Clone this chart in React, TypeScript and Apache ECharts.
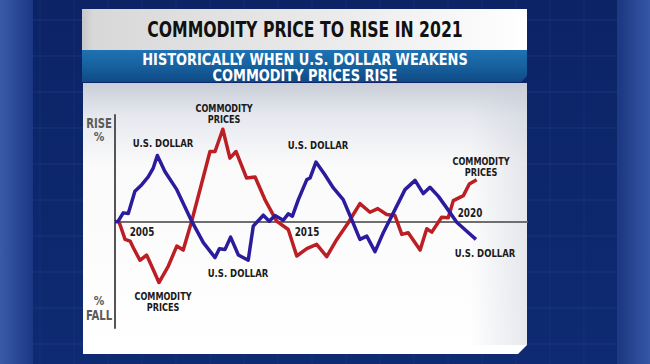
import React, { useEffect, useRef } from "react";
import * as echarts from "echarts";

// ---- Data (x = time in years, y = relative % change, -100..100 scale) ----
const dollarX = [2004.0, 2004.12, 2004.36, 2004.58, 2004.87, 2005.17, 2005.45, 2005.67, 2005.85, 2006.18, 2006.7, 2007.35, 2007.86, 2008.37, 2008.56, 2008.81, 2009.05, 2009.39, 2009.82, 2010.04, 2010.48, 2010.74, 2010.99, 2011.35, 2011.57, 2011.75, 2012.01, 2012.38, 2012.52, 2012.78, 2013.17, 2013.54, 2013.97, 2014.34, 2014.7, 2015.0, 2015.36, 2015.72, 2016.16, 2016.67, 2017.11, 2017.47, 2017.76, 2018.13, 2018.49, 2018.93, 2019.37, 2019.77];
const dollarY = [0, -0.3, 8.1, 7.5, 28.3, 34.6, 41.8, 50.2, 62.0, 47.0, 29.9, 0.3, -19.9, -33.9, -25.5, -26.2, -14.7, -31.5, -36.4, -4.4, 5.9, 0.3, 5.6, 1.2, 7.2, 5.0, 20.6, 39.3, 40.8, 55.8, 43.9, 31.5, 20.6, 1.9, -16.8, -13.7, -28.3, -10.6, 8.1, 29.9, 38.6, 26.2, 32.1, 23.6, 12.8, -0.7, -9.1, -16.8];

const commodityX = [2004.15, 2004.19, 2004.44, 2004.66, 2004.8, 2005.09, 2005.38, 2005.6, 2005.92, 2006.33, 2006.7, 2006.98, 2007.35, 2007.79, 2008.15, 2008.37, 2008.71, 2009.02, 2009.29, 2009.75, 2010.12, 2010.55, 2011.06, 2011.57, 2011.94, 2012.38, 2012.81, 2013.25, 2013.69, 2014.19, 2014.7, 2015.14, 2015.48, 2015.87, 2016.23, 2016.53, 2016.81, 2017.33, 2017.62, 2017.84, 2018.27, 2018.56, 2018.78, 2019.22, 2019.48, 2019.8];
const commodityY = [0, -1.2, -16.8, -18.4, -24.6, -36.4, -31.5, -41.8, -57.3, -41.8, -23.1, -26.8, 0.3, 36.2, 65.7, 65.7, 86.6, 59.5, 65.7, 40.8, 41.8, 20.6, 0.3, -7.5, -32.4, -25.5, -21.5, -33.0, -16.8, -1.2, 16.8, 8.7, 12.1, 6.5, 5.6, -12.1, -10.6, -26.8, -6.8, -10.0, 4.0, 3.5, 19.6, 24.3, 35.2, 39.3];

const TITLE = "COMMODITY PRICE TO RISE IN 2021";
const SUBTITLE_1 = "HISTORICALLY WHEN U.S. DOLLAR WEAKENS";
const SUBTITLE_2 = "COMMODITY PRICES RISE";
const YEAR_LABELS = ["2005", "2015", "2020"];
const DOLLAR_LABEL = "U.S. DOLLAR";
const COMMODITY_LABEL = ["COMMODITY", "PRICES"];

const FONT = "'Liberation Sans Narrow', 'DejaVu Sans Condensed', 'Roboto', sans-serif";

export default function App() {
  const ref = useRef<HTMLDivElement>(null);

  useEffect(() => {
    if (!ref.current) return;
    const chart = echarts.init(ref.current, null, { renderer: "svg" });

    const zip = (xs: number[], ys: number[]) => xs.map((x, i) => [x, ys[i]]);

    const label = (text: string, x: number, y: number, size = 11, color = "#1a1a1a", sx = 0.86) => ({
      type: "text",
      x,
      y,
      z: 100,
      scaleX: sx,
      style: {
        text,
        fill: color,
        font: `bold ${size}px ${FONT}`,
        textAlign: "center",
        textVerticalAlign: "middle",
      },
    });

    const twoLine = (x: number, y1: number) => [
      label(COMMODITY_LABEL[0], x, y1, 10.5),
      label(COMMODITY_LABEL[1], x, y1 + 11, 10.5),
    ];

    const bgLines: any[] = [];
    for (let i = 0; i < 10; i++) {
      bgLines.push({
        type: "line",
        z: -9,
        shape: { x1: 33, y1: 20 + i * 36, x2: 617, y2: 20 + i * 36 },
        style: { stroke: "rgba(90,130,220,0.16)", lineWidth: 1 },
      });
    }
    for (let i = 0; i < 18; i++) {
      bgLines.push({
        type: "line",
        z: -9,
        shape: { x1: 40 + i * 34, y1: 0, x2: 40 + i * 34, y2: 364 },
        style: { stroke: "rgba(90,130,220,0.10)", lineWidth: 1 },
      });
    }

    const option: any = {
      animation: false,
      backgroundColor: {
        type: "linear",
        x: 0, y: 0, x2: 0, y2: 1,
        colorStops: [
          { offset: 0, color: "#0c2466" },
          { offset: 1, color: "#0e2a72" },
        ],
      },
      grid: { left: 115, right: 123, top: 115, bottom: 36, containLabel: false },
      xAxis: {
        type: "value",
        min: 2004,
        max: 2022,
        axisLine: { show: true, onZero: true, lineStyle: { color: "#6e6e6e", width: 2 } },
        axisTick: { show: false },
        axisLabel: { show: false },
        splitLine: { show: false },
      },
      yAxis: {
        type: "value",
        min: -100,
        max: 100,
        axisLine: { show: true, lineStyle: { color: "#555555", width: 2 } },
        axisTick: { show: false },
        axisLabel: { show: false },
        splitLine: { show: false },
      },
      series: [
        {
          name: "U.S. DOLLAR",
          type: "line",
          data: zip(dollarX, dollarY),
          showSymbol: false,
          symbol: "none",
          lineStyle: { color: "#2b1c9e", width: 3.5, join: "round" },
          z: 5,
        },
        {
          name: "COMMODITY PRICES",
          type: "line",
          data: zip(commodityX, commodityY),
          showSymbol: false,
          symbol: "none",
          lineStyle: { color: "#bb1f24", width: 3.5, join: "round" },
          z: 4,
        },
      ],
      graphic: {
        elements: [
          // side bars
          {
            type: "rect", z: -10,
            shape: { x: 0, y: 0, width: 33, height: 364 },
            style: {
              fill: {
                type: "linear", x: 0, y: 0, x2: 1, y2: 0,
                colorStops: [
                  { offset: 0, color: "#3a5aa8" },
                  { offset: 1, color: "#1a3783" },
                ],
              },
            },
          },
          {
            type: "rect", z: -10,
            shape: { x: 617, y: 0, width: 33, height: 364 },
            style: {
              fill: {
                type: "linear", x: 0, y: 0, x2: 1, y2: 0,
                colorStops: [
                  { offset: 0, color: "#1b3680" },
                  { offset: 1, color: "#3657a6" },
                ],
              },
            },
          },
          ...bgLines,
          // title box
          {
            type: "rect", z: -5,
            shape: { x: 82, y: 9, width: 445, height: 41 },
            style: {
              fill: {
                type: "linear", x: 0, y: 0, x2: 1, y2: 0,
                colorStops: [
                  { offset: 0, color: "#c4c6ca" },
                  { offset: 0.025, color: "#d8d8d8" },
                  { offset: 0.6, color: "#ececec" },
                  { offset: 1, color: "#ffffff" },
                ],
              },
            },
          },
          // blue subtitle bar
          {
            type: "polygon", z: -5,
            shape: { points: [[82, 50], [527, 50], [527, 76], [521, 82], [82, 82]] },
            style: {
              fill: {
                type: "linear", x: 0, y: 0, x2: 0, y2: 1,
                colorStops: [
                  { offset: 0, color: "#1f72b3" },
                  { offset: 0.5, color: "#17619f" },
                  { offset: 1, color: "#0f4a84" },
                ],
              },
            },
          },
          // chart panel
          {
            type: "polygon", z: -5,
            shape: { points: [[83, 83], [527, 83], [527, 345], [518, 354], [83, 354]] },
            style: {
              fill: {
                type: "linear", x: 0, y: 0, x2: 0, y2: 1,
                colorStops: [
                  { offset: 0, color: "#c9ced8" },
                  { offset: 0.12, color: "#e6e8ee" },
                  { offset: 0.3, color: "#fafafb" },
                  { offset: 1, color: "#ffffff" },
                ],
              },
            },
          },
          {
            type: "rect", z: -4,
            shape: { x: 470, y: 83, width: 57, height: 262 },
            style: {
              fill: {
                type: "linear", x: 0, y: 0, x2: 1, y2: 0,
                colorStops: [
                  { offset: 0, color: "rgba(200,205,215,0)" },
                  { offset: 1, color: "rgba(200,205,215,0.45)" },
                ],
              },
            },
          },
          // titles
          label(TITLE, 305, 30, 21, "#111111", 0.83),
          label(SUBTITLE_1, 305, 59, 15, "#ffffff", 0.96),
          label(SUBTITLE_2, 305, 75, 15, "#ffffff", 0.96),
          // axis words
          label("RISE", 99, 123, 14, "#5a5a5a", 0.8),
          label("%", 99, 137, 13, "#5a5a5a", 0.9),
          label("%", 99, 301, 13, "#5a5a5a", 0.9),
          label("FALL", 99, 315, 14, "#5a5a5a", 0.8),
          // years
          label(YEAR_LABELS[0], 142, 232, 12, "#1a1a1a", 0.82),
          label(YEAR_LABELS[1], 307, 232, 12, "#1a1a1a", 0.82),
          label(YEAR_LABELS[2], 470, 213, 12, "#1a1a1a", 0.82),
          // series annotations
          label(DOLLAR_LABEL, 163, 143, 11),
          ...twoLine(224, 108),
          label(DOLLAR_LABEL, 318, 145, 11),
          ...twoLine(481, 161),
          label(DOLLAR_LABEL, 485, 253, 11),
          label(DOLLAR_LABEL, 238, 273, 11),
          ...twoLine(163, 296),
        ],
      },
    };

    chart.setOption(option);
    return () => chart.dispose();
  }, []);

  return (
    <div
      ref={ref}
      style={{ position: "fixed", left: 0, top: 0, width: 650, height: 364 }}
    />
  );
}
